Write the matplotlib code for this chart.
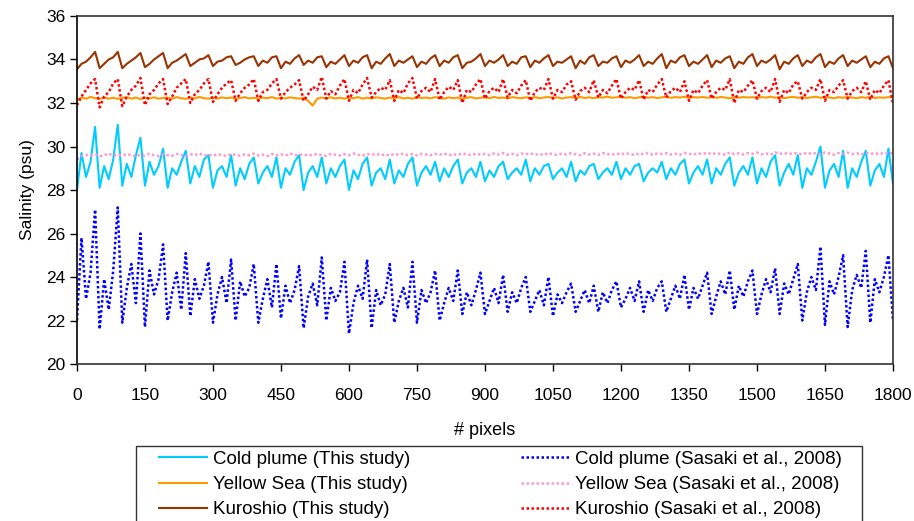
import numpy as np
import matplotlib
matplotlib.use("Agg")
import matplotlib.pyplot as plt
from matplotlib.patches import Rectangle

plt.rcParams['font.family'] = ['Liberation Sans', 'DejaVu Sans']

# sample positions (# pixels), every 10
px = np.arange(0, 1801, 10)

# Cold plume (This study)
cold_this = [
    28.0, 29.7, 28.6, 29.3, 30.9,  28.1, 29.1, 28.5, 29.4, 31.0,
    28.2, 29.2, 28.6, 29.6, 30.4,  28.2, 29.3, 28.7, 29.1, 29.9,
    28.1, 29.0, 28.7, 29.3, 29.8,  28.3, 29.1, 28.6, 29.4, 29.6,
    28.1, 28.9, 29.1, 28.6, 29.6,  28.2, 29.0, 28.5, 29.2, 29.5,
    28.3, 28.8, 29.1, 28.6, 29.5,  28.1, 29.0, 28.7, 29.3, 29.6,
    28.0, 28.8, 29.1, 28.6, 29.5,  28.3, 29.0, 28.6, 29.1, 29.4,
    28.0, 28.9, 28.5, 29.2, 29.5,  28.2, 28.8, 29.0, 28.5, 29.4,
    28.3, 28.9, 28.6, 29.2, 29.5,  28.2, 28.8, 29.1, 28.7, 29.3,
    28.4, 29.0, 28.6, 29.1, 29.4,  28.3, 28.8, 29.0, 28.6, 29.3,
    28.4, 28.9, 28.6, 29.1, 29.3,  28.5, 28.8, 29.0, 28.7, 29.4,
    28.4, 29.0, 28.7, 29.1, 29.2,  28.5, 28.8, 29.0, 28.6, 29.3,
    28.4, 28.9, 28.7, 29.1, 29.2,  28.5, 28.8, 29.0, 28.7, 29.3,
    28.5, 29.0, 28.7, 29.1, 29.2,  28.4, 28.8, 29.0, 28.8, 29.3,
    28.5, 29.0, 28.7, 29.2, 29.4,  28.3, 28.8, 29.1, 28.7, 29.4,
    28.3, 29.0, 28.7, 29.2, 29.5,  28.2, 28.8, 29.1, 28.7, 29.5,
    28.3, 29.0, 28.6, 29.3, 29.6,  28.2, 28.8, 29.2, 28.7, 29.6,
    28.1, 29.0, 28.7, 29.3, 30.0,  28.1, 28.9, 29.2, 28.6, 29.8,
    28.1, 29.0, 28.6, 29.3, 29.8,  28.2, 28.9, 29.2, 28.6, 29.9,
    28.3,
]

# Yellow Sea (This study)
yellow_this = [
    32.15, 32.25, 32.20, 32.28, 32.22, 32.18, 32.26, 32.20, 32.24, 32.19,
    32.23, 32.27, 32.20, 32.25, 32.18, 32.24, 32.21, 32.26, 32.20, 32.23,
    32.25, 32.20, 32.27, 32.22, 32.19, 32.25, 32.21, 32.28, 32.22, 32.20,
    32.24, 32.20, 32.26, 32.22, 32.25, 32.19, 32.23, 32.27, 32.21, 32.24,
    32.20, 32.25, 32.22, 32.27, 32.20, 32.24, 32.21, 32.26, 32.23, 32.20,
    32.24, 32.10, 31.88, 32.20, 32.25, 32.22, 32.26, 32.21, 32.24, 32.20,
    32.25, 32.22, 32.27, 32.20, 32.24, 32.21, 32.26, 32.23, 32.20, 32.25,
    32.22, 32.27, 32.21, 32.24, 32.20, 32.26, 32.23, 32.25, 32.21, 32.27,
    32.23, 32.20, 32.26, 32.22, 32.25, 32.20, 32.24, 32.27, 32.21, 32.24,
    32.26, 32.22, 32.28, 32.23, 32.25, 32.21, 32.27, 32.24, 32.22, 32.26,
    32.23, 32.27, 32.22, 32.25, 32.28, 32.23, 32.26, 32.21, 32.25, 32.27,
    32.24, 32.28, 32.23, 32.26, 32.22, 32.27, 32.25, 32.29, 32.24, 32.26,
    32.28, 32.24, 32.27, 32.22, 32.26, 32.29, 32.24, 32.27, 32.23, 32.26,
    32.28, 32.24, 32.27, 32.25, 32.29, 32.23, 32.27, 32.25, 32.28, 32.24,
    32.27, 32.24, 32.28, 32.25, 32.22, 32.27, 32.24, 32.28, 32.25, 32.27,
    32.23, 32.27, 32.25, 32.29, 32.24, 32.27, 32.22, 32.26, 32.28, 32.24,
    32.27, 32.23, 32.26, 32.29, 32.24, 32.27, 32.25, 32.22, 32.27, 32.24,
    32.28, 32.25, 32.22, 32.27, 32.24, 32.28, 32.23, 32.26, 32.24, 32.27,
    32.25,
]

# Kuroshio (This study)
kuro_this = [
    33.55, 33.80, 33.90, 34.10, 34.35,  33.60, 33.80, 34.00, 34.10, 34.35,
    33.60, 33.80, 33.95, 34.10, 34.30,  33.65, 33.80, 34.00, 34.15, 34.30,
    33.60, 33.85, 33.95, 34.10, 34.25,  33.70, 33.85, 34.00, 34.05, 34.20,
    33.70, 33.90, 33.95, 34.10, 34.15,  33.75, 33.85, 34.00, 34.10, 34.15,
    33.70, 33.95, 33.85, 34.10, 34.15,  33.60, 33.90, 33.80, 34.05, 34.20,
    33.75, 33.95, 33.85, 34.10, 34.15,  33.65, 33.90, 33.80, 34.00, 34.20,
    33.70, 33.95, 33.85, 34.10, 34.20,  33.60, 33.90, 33.80, 34.05, 34.25,
    33.70, 33.95, 33.85, 34.00, 34.15,  33.65, 33.90, 33.80, 34.05, 34.20,
    33.70, 33.95, 33.85, 34.10, 34.20,  33.60, 33.85, 33.90, 34.05, 34.25,
    33.70, 33.95, 33.85, 34.00, 34.20,  33.70, 33.90, 33.80, 34.10, 34.15,
    33.65, 33.95, 33.85, 34.05, 34.20,  33.70, 33.90, 33.85, 34.00, 34.15,
    33.60, 33.95, 33.80, 34.10, 34.20,  33.70, 33.90, 33.85, 34.05, 34.15,
    33.65, 33.95, 33.85, 34.00, 34.20,  33.70, 33.90, 33.80, 34.05, 34.25,
    33.60, 33.95, 33.85, 34.10, 34.20,  33.70, 33.90, 33.80, 34.00, 34.20,
    33.65, 33.95, 33.85, 34.05, 34.15,  33.60, 33.90, 33.80, 34.10, 34.25,
    33.70, 33.95, 33.85, 34.00, 34.20,  33.55, 33.90, 33.80, 34.05, 34.20,
    33.70, 33.95, 33.85, 34.10, 34.25,  33.65, 33.90, 33.80, 34.05, 34.20,
    33.70, 33.95, 33.85, 34.00, 34.15,  33.65, 33.90, 33.80, 34.05, 34.15,
    33.60,
]

# Cold plume (Sasaki et al., 2008)
cold_sasaki = [
    22.0, 25.8, 23.0, 24.2, 27.1,  21.6, 23.9, 22.5, 24.3, 27.2,
    21.9, 23.5, 24.6, 22.8, 26.0,  21.7, 24.3, 23.2, 23.9, 25.5,
    22.0, 23.3, 24.2, 22.5, 25.1,  22.2, 23.9, 23.0, 23.6, 24.7,
    21.9, 23.2, 24.0, 22.8, 24.8,  22.0, 23.8, 23.1, 23.5, 24.6,
    21.9, 23.0, 23.9, 22.6, 24.6,  22.1, 23.6, 22.8, 23.4, 24.5,
    21.65, 23.1, 23.7, 22.7, 24.9, 22.0, 23.5, 22.9, 23.3, 24.7,
    21.4, 22.8, 23.6, 23.0, 24.8,  21.65, 23.4, 22.7, 23.2, 24.6,
    21.9, 22.9, 23.5, 22.6, 24.7,  21.9, 23.4, 22.8, 23.3, 24.3,
    22.0, 22.8, 23.5, 22.9, 24.3,  22.3, 23.3, 22.7, 23.4, 24.2,
    22.3, 22.9, 23.5, 22.8, 24.1,  22.4, 23.3, 22.8, 23.5, 24.0,
    22.4, 22.9, 23.4, 22.7, 24.0,  22.2, 23.2, 22.8, 23.3, 23.7,
    22.4, 22.9, 23.4, 22.8, 23.6,  22.4, 23.3, 22.8, 23.4, 23.8,
    22.6, 23.0, 23.5, 22.9, 23.8,  22.4, 23.4, 22.9, 23.5, 23.8,
    22.4, 23.0, 23.6, 23.0, 24.1,  22.5, 23.5, 23.0, 23.6, 24.2,
    22.3, 23.1, 23.8, 23.2, 24.3,  22.5, 23.6, 23.1, 23.8, 24.3,
    22.3, 23.2, 23.9, 23.3, 24.4,  22.3, 23.7, 23.2, 23.9, 24.6,
    22.0, 23.3, 24.0, 23.4, 25.4,  21.8, 23.8, 23.2, 24.0, 25.0,
    21.7, 23.4, 24.1, 23.5, 25.2,  21.9, 23.9, 23.3, 24.0, 25.0,
    22.0,
]

# Yellow Sea (Sasaki et al., 2008)
yellow_sasaki = [
    29.40, 29.55, 29.62, 29.58, 29.65, 29.55, 29.60, 29.68, 29.57, 29.62,
    29.58, 29.66, 29.60, 29.55, 29.63, 29.58, 29.67, 29.60, 29.56, 29.64,
    29.60, 29.57, 29.66, 29.61, 29.55, 29.64, 29.60, 29.68, 29.58, 29.63,
    29.57, 29.65, 29.60, 29.56, 29.66, 29.61, 29.58, 29.64, 29.60, 29.67,
    29.59, 29.63, 29.56, 29.66, 29.60, 29.64, 29.58, 29.68, 29.61, 29.60,
    29.65, 29.58, 29.62, 29.67, 29.60, 29.57, 29.66, 29.62, 29.59, 29.65,
    29.60, 29.68, 29.62, 29.58, 29.66, 29.61, 29.67, 29.60, 29.64, 29.58,
    29.66, 29.62, 29.68, 29.60, 29.65, 29.59, 29.67, 29.63, 29.60, 29.66,
    29.62, 29.68, 29.60, 29.65, 29.61, 29.69, 29.63, 29.60, 29.67, 29.62,
    29.66, 29.60, 29.68, 29.63, 29.70, 29.62, 29.66, 29.60, 29.68, 29.64,
    29.69, 29.62, 29.66, 29.60, 29.70, 29.64, 29.61, 29.68, 29.63, 29.70,
    29.64, 29.60, 29.69, 29.63, 29.67, 29.61, 29.70, 29.65, 29.62, 29.68,
    29.63, 29.70, 29.65, 29.61, 29.69, 29.64, 29.71, 29.62, 29.68, 29.65,
    29.70, 29.63, 29.67, 29.62, 29.71, 29.66, 29.63, 29.69, 29.65, 29.72,
    29.64, 29.70, 29.66, 29.62, 29.72, 29.65, 29.69, 29.63, 29.70, 29.66,
    29.72, 29.64, 29.68, 29.62, 29.73, 29.66, 29.70, 29.64, 29.71, 29.67,
    29.63, 29.72, 29.66, 29.70, 29.64, 29.73, 29.67, 29.62, 29.70, 29.66,
    29.72, 29.65, 29.69, 29.63, 29.71, 29.66, 29.70, 29.64, 29.72, 29.67,
    29.70,
]

# Kuroshio (Sasaki et al., 2008)
kuro_sasaki = [
    31.90, 32.30, 32.60, 32.90, 33.10,  31.80, 32.30, 32.50, 32.90, 33.10,
    31.85, 32.30, 32.60, 32.80, 33.15,  31.90, 32.40, 32.60, 32.90, 33.10,
    31.95, 32.30, 32.70, 32.90, 33.10,  32.00, 32.40, 32.60, 32.90, 33.10,
    32.05, 32.40, 32.70, 32.90, 33.05,  32.10, 32.45, 32.70, 32.85, 33.10,
    32.10, 32.50, 32.60, 32.90, 33.10,  32.20, 32.50, 32.70, 32.85, 33.05,
    32.10, 32.40, 32.75, 32.60, 33.20,  32.20, 32.55, 32.40, 32.80, 33.10,
    32.10, 32.60, 32.45, 32.85, 33.15,  32.25, 32.50, 32.70, 32.60, 33.05,
    32.10, 32.60, 32.45, 32.90, 33.15,  32.20, 32.55, 32.70, 32.50, 33.10,
    32.15, 32.50, 32.75, 32.60, 33.05,  32.00, 32.60, 32.50, 32.85, 33.10,
    32.20, 32.55, 32.70, 32.50, 33.10,  32.25, 32.60, 32.45, 32.80, 33.05,
    32.10, 32.50, 32.70, 32.60, 33.10,  32.20, 32.60, 32.50, 32.85, 33.00,
    32.15, 32.55, 32.70, 32.50, 33.05,  32.25, 32.60, 32.45, 32.80, 33.10,
    32.20, 32.50, 32.70, 32.60, 33.05,  32.15, 32.60, 32.50, 32.85, 33.10,
    32.25, 32.55, 32.70, 32.50, 33.00,  32.10, 32.60, 32.45, 32.80, 33.05,
    32.20, 32.50, 32.70, 32.60, 33.10,  32.00, 32.60, 32.50, 32.80, 33.05,
    32.20, 32.55, 32.70, 32.50, 33.10,  32.05, 32.60, 32.45, 32.85, 33.00,
    32.20, 32.50, 32.70, 32.60, 33.10,  32.10, 32.60, 32.50, 32.80, 33.05,
    32.20, 32.55, 32.70, 32.50, 33.00,  32.15, 32.60, 32.45, 32.80, 33.05,
    31.95,
]

labels = ["Cold plume (This study)", "Yellow Sea (This study)", "Kuroshio (This study)",
          "Cold plume (Sasaki et al., 2008)", "Yellow Sea (Sasaki et al., 2008)",
          "Kuroshio (Sasaki et al., 2008)"]
x_ticks = list(range(0, 1801, 150))
y_ticks = list(range(20, 37, 2))

fig = plt.figure(figsize=(9.14, 5.21), dpi=100)
ax = fig.add_axes([0.0842, 0.3013, 0.8928, 0.668])

dots = (0, (1, 1))
h1, = ax.plot(px, cold_this, color="#00CCFF", lw=1.5)
h2, = ax.plot(px, yellow_this, color="#FF9900", lw=1.5)
h3, = ax.plot(px, kuro_this, color="#993300", lw=1.5)
h4, = ax.plot(px, cold_sasaki, color="#0000FF", lw=1.8, ls=dots)
h5, = ax.plot(px, yellow_sasaki, color="#FF99CC", lw=1.8, ls=dots)
h6, = ax.plot(px, kuro_sasaki, color="#FF0000", lw=1.8, ls=dots)

ax.set_xlim(0, 1800)
ax.set_ylim(20, 36)
ax.set_xticks(x_ticks)
ax.set_yticks(y_ticks)
ax.tick_params(labelsize=12.5, direction="out", length=5, width=1, colors="black")
ax.tick_params(axis="x", pad=12)
for s in ax.spines.values():
    s.set_color("#333333")
    s.set_linewidth(1.2)
ax.spines["left"].set_color("black")

ax.set_xlabel("# pixels", fontsize=13, labelpad=14)
ax.set_ylabel("Salinity (psu)", fontsize=12.5, labelpad=8)

# legend box runs past the bottom edge of the figure
fig.patches.append(Rectangle((136 / 914, -0.05), (862 - 136) / 914, (521 - 446) / 521 + 0.05,
                             transform=fig.transFigure, fill=False,
                             edgecolor="#333333", lw=1.0))
leg = fig.legend([h1, h2, h3, h4, h5, h6], labels, ncol=2, frameon=False,
                 fontsize=13.5, loc="upper left",
                 bbox_to_anchor=(155 / 914, 1 - 447 / 521), borderaxespad=0,
                 handlelength=2.56, handletextpad=0.32, columnspacing=5.9,
                 labelspacing=0.43, borderpad=0.2)

fig.savefig("out.png", dpi=100)
